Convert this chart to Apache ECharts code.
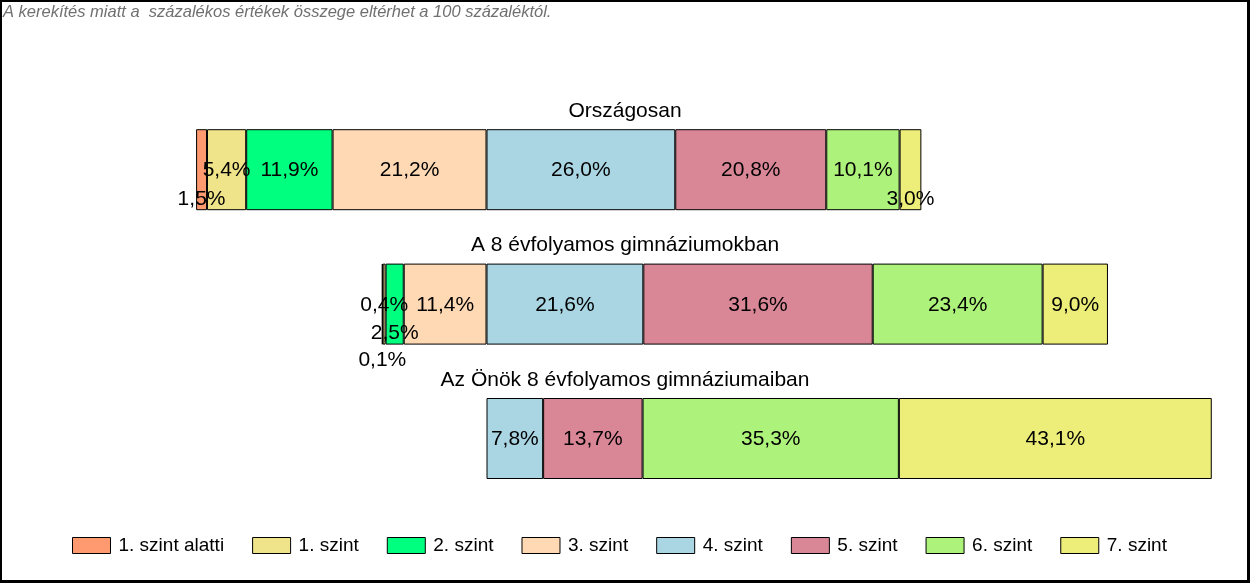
<!DOCTYPE html>
<html>
<head>
<meta charset="utf-8">
<script src="https://cdn.jsdelivr.net/npm/echarts@6/dist/echarts.min.js"></script>
<style>
html,body{margin:0;padding:0;background:#fff;}
#chart{width:1250px;height:583px;}
</style>
</head>
<body>
<div id="chart"></div>
<script>
// ---- data ----
const note = 'A kerekítés miatt a  százalékos értékek összege eltérhet a 100 százaléktól.';
const categories = ['Országosan', 'A 8 évfolyamos gimnáziumokban', 'Az Önök 8 évfolyamos gimnáziumaiban'];
const levelNames = ['1. szint alatti', '1. szint', '2. szint', '3. szint', '4. szint', '5. szint', '6. szint', '7. szint'];
const lvlBelow1 = [1.5, 0.1, null];
const lvl1 = [5.4, 0.4, null];
const lvl2 = [11.9, 2.5, null];
const lvl3 = [21.2, 11.4, null];
const lvl4 = [26.0, 21.6, 7.8];
const lvl5 = [20.8, 31.6, 13.7];
const lvl6 = [10.1, 23.4, 35.3];
const lvl7 = [3.0, 9.0, 43.1];

// ---- styling ----
const FONT = "'Liberation Sans', Arial, sans-serif";
const colors = {
  '1. szint alatti': '#FF9A70',
  '1. szint': '#F0E48A',
  '2. szint': '#00FF7F',
  '3. szint': '#FFD8B4',
  '4. szint': '#AAD6E4',
  '5. szint': '#D98797',
  '6. szint': '#ADF27A',
  '7. szint': '#EDED7A'
};
// vertical label shifts for narrow segments: [levelName][categoryIndex] -> dy
const labelShift = {
  '1. szint alatti': {0: 29, 1: 55},
  '2. szint': {1: 28},
  '7. szint': {0: 29}
};

const values = {
  '1. szint alatti': lvlBelow1, '1. szint': lvl1, '2. szint': lvl2, '3. szint': lvl3,
  '4. szint': lvl4, '5. szint': lvl5, '6. szint': lvl6, '7. szint': lvl7
};
const belowIdx = 4; // levels before "4. szint" go to the left
// stacking order: left side from the centre outward, then right side
const stackOrder = ['3. szint', '2. szint', '1. szint', '1. szint alatti', '4. szint', '5. szint', '6. szint', '7. szint'];

function fmt(v) {
  return Math.abs(v).toFixed(1).replace('.', ',') + '%';
}

const series = stackOrder.map(name => {
  const neg = levelNames.indexOf(name) < belowIdx;
  const data = values[name].map((v, i) => {
    if (v === null || v === undefined) return null;
    const item = { value: neg ? -v : v };
    const sh = labelShift[name] && labelShift[name][i];
    if (sh) item.label = { offset: [0, sh + 1] };
    return item;
  });
  return {
    name: name,
    type: 'bar',
    stack: 'total',
    barWidth: 81,
    data: data,
    itemStyle: { color: colors[name], borderColor: '#000', borderWidth: 1 },
    label: {
      show: true,
      position: 'inside',
      offset: [0, 1],
      color: '#000',
      fontFamily: FONT,
      fontSize: 21,
      formatter: p => (p.value === null || p.value === undefined || p.value === 0) ? '' : fmt(p.value)
    },
    emphasis: { disabled: true },
    animation: false
  };
});

const chart = echarts.init(document.getElementById('chart'), null, { renderer: 'canvas' });
const option = {
  backgroundColor: '#fff',
  animation: false,
  grid: { left: 123.5, width: 1089, top: 102.5, height: 403.2, containLabel: false },
  xAxis: { type: 'value', min: -50, max: 100, show: false },
  yAxis: { type: 'category', data: categories, inverse: true, show: false },
  legend: {
    data: levelNames,
    left: 72,
    top: 536,
    padding: 0,
    itemWidth: 38,
    itemHeight: 16,
    itemGap: 28,
    icon: 'rect',
    itemStyle: { borderColor: '#000', borderWidth: 1 },
    textStyle: { fontFamily: FONT, fontSize: 19, color: '#000', padding: [0, 0, 0, 3] },
    selectedMode: false
  },
  series: series
};
chart.setOption(option);

// category titles above bars, centered on the page, plus note and frame
const titleEls = categories.map(c => {
  const y = chart.convertToPixel({ yAxisIndex: 0 }, c);
  return {
    type: 'text',
    x: 625,
    y: y - 58.5,
    style: { text: c, fontFamily: FONT, fontSize: 21, fill: '#000', align: 'center', verticalAlign: 'middle' },
    silent: true
  };
});
chart.setOption({
  graphic: titleEls.concat([
    {
      type: 'text', x: 3, y: 12,
      style: { text: note, fontFamily: FONT, fontSize: 16.5, fontStyle: 'italic', fill: '#707070', align: 'left', verticalAlign: 'middle' },
      silent: true
    },
    { type: 'rect', shape: { x: 0, y: 0, width: 1250, height: 2 }, style: { fill: '#000' }, z: 100, silent: true },
    { type: 'rect', shape: { x: 0, y: 0, width: 2, height: 583 }, style: { fill: '#000' }, z: 100, silent: true },
    { type: 'rect', shape: { x: 1247, y: 0, width: 3, height: 583 }, style: { fill: '#000' }, z: 100, silent: true },
    { type: 'rect', shape: { x: 0, y: 580, width: 1250, height: 3 }, style: { fill: '#000' }, z: 100, silent: true }
  ])
});
</script>
</body>
</html>
